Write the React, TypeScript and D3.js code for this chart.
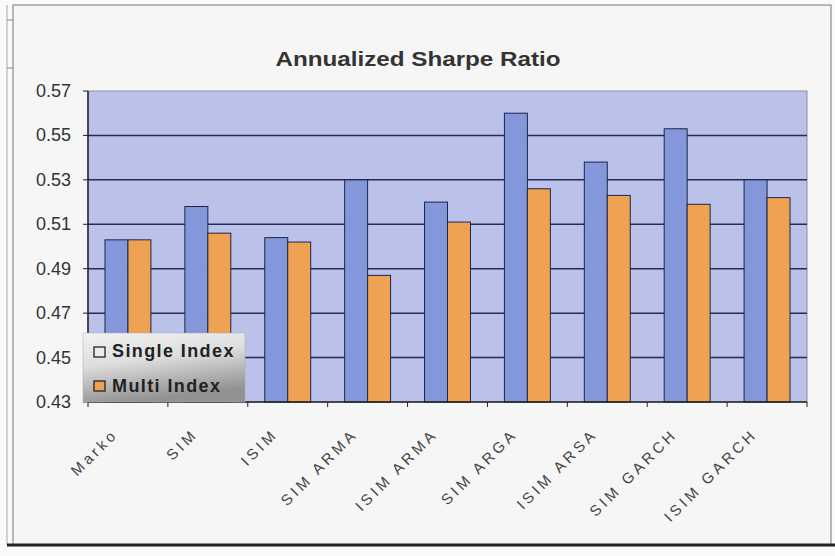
import React from "react";
import * as d3 from "d3";

const categories = ["Marko", "SIM", "ISIM", "SIM ARMA", "ISIM ARMA", "SIM ARGA", "ISIM ARSA", "SIM GARCH", "ISIM GARCH"];
const singleIndex = [0.503, 0.518, 0.504, 0.53, 0.52, 0.56, 0.538, 0.553, 0.53];
const multiIndex = [0.503, 0.506, 0.502, 0.487, 0.511, 0.526, 0.523, 0.519, 0.522];
const yTicks = [0.43, 0.45, 0.47, 0.49, 0.51, 0.53, 0.55, 0.57];
const seriesNames = ["Single Index", "Multi Index"];
const seriesColors = ["#8397da", "#efa252"];

export default function App() {
  const W = 835, H = 556;
  const left = 88, right = 807, top = 91, bottom = 402;
  const x0 = d3.scaleBand<string>().domain(categories).range([left, right]).padding(0);
  const groupW = x0.bandwidth() * 0.575;
  const x1 = d3.scaleBand<string>().domain(seriesNames).range([0, groupW]).padding(0);
  const y = d3.scaleLinear().domain([0.43, 0.57]).range([bottom, top]);
  const series = [singleIndex, multiIndex];
  const font = "'Liberation Sans', Arial, sans-serif";

  return (
    <svg width={W} height={H} style={{ position: "absolute", left: 0, top: 0 }} xmlns="http://www.w3.org/2000/svg">
      <defs>
        <linearGradient id="legGrad" x1="0" y1="0" x2="0.3" y2="1">
          <stop offset="0" stopColor="#f2f2f2" />
          <stop offset="0.45" stopColor="#dedede" />
          <stop offset="1" stopColor="#929292" />
        </linearGradient>
      </defs>
      <rect x={0} y={0} width={W} height={H} fill="#fafafa" />
      <rect x={13} y={5} width={818} height={540} fill="#f6f6f6" stroke="#777" strokeWidth={1} />
      <line x1={7} x2={7} y1={5} y2={545} stroke="#aaa" strokeWidth={1} />
      <line x1={7} x2={13} y1={20} y2={20} stroke="#888" strokeWidth={1} />
      <line x1={7} x2={13} y1={68} y2={68} stroke="#888" strokeWidth={1} />
      <line x1={7} x2={835} y1={545} y2={545} stroke="#222" strokeWidth={3} />

      <text x={418} y={66} textAnchor="middle" fontFamily="'Liberation Sans Narrow', 'Arial Narrow', 'Liberation Sans', Arial, sans-serif"
        fontWeight="bold" fontSize={21} fill="#333" textLength={285} lengthAdjust="spacingAndGlyphs">Annualized Sharpe Ratio</text>

      <rect x={left} y={top} width={right - left} height={bottom - top} fill="#bac2ea" stroke="#8a8fa8" strokeWidth={1} />

      {yTicks.filter(t => t > 0.43 && t < 0.57).map(t => (
        <line key={"g" + t} x1={left} x2={right} y1={y(t)} y2={y(t)} stroke="#252b52" strokeWidth={1.5} />
      ))}

      {categories.map((c, i) => (
        <g key={c}>
          {series.map((s, j) => {
            const bx = (x0(c) as number) + (x0.bandwidth() - groupW) / 2 + (x1(seriesNames[j]) as number);
            return (
              <rect key={j} x={bx} y={y(s[i])} width={x1.bandwidth()} height={bottom - y(s[i])}
                fill={seriesColors[j]} stroke="#1e2448" strokeWidth={1} />
            );
          })}
        </g>
      ))}

      <line x1={left} x2={left} y1={top} y2={bottom} stroke="#222" strokeWidth={1.5} />
      <line x1={left} x2={right} y1={bottom} y2={bottom} stroke="#222" strokeWidth={1.5} />
      {yTicks.map(t => (
        <g key={"t" + t}>
          <line x1={left - 5} x2={left} y1={y(t)} y2={y(t)} stroke="#222" strokeWidth={1} />
          <text x={71} y={y(t) + 6} textAnchor="end" fontFamily={font} fontSize={18} fill="#333">{t.toFixed(2)}</text>
        </g>
      ))}
      {d3.range(categories.length + 1).map(i => {
        const xx = left + i * x0.step();
        return <line key={"xt" + i} x1={xx} x2={xx} y1={bottom} y2={bottom + 5} stroke="#222" strokeWidth={1} />;
      })}
      {categories.map(c => {
        const cx = (x0(c) as number) + x0.bandwidth() / 2 - 9;
        return (
          <text key={"l" + c} transform={`translate(${cx},${bottom + 33}) rotate(-45)`} textAnchor="end"
            fontFamily={font} fontSize={15} letterSpacing={3.5} fill="#444">{c}</text>
        );
      })}

      <g>
        <rect x={83} y={333} width={162} height={69} fill="url(#legGrad)" stroke="#aaa" strokeWidth={0.5} />
        {seriesNames.map((n, j) => (
          <g key={n}>
            <rect x={94} y={j === 0 ? 347 : 381} width={11} height={10}
              fill={j === 0 ? "#e8ebf6" : seriesColors[1]} stroke="#222" strokeWidth={1.3} />
            <text x={112} y={j === 0 ? 357 : 392} fontFamily={font} fontWeight="bold" fontSize={18} letterSpacing={1.4} fill="#222">{n}</text>
          </g>
        ))}
      </g>
    </svg>
  );
}
